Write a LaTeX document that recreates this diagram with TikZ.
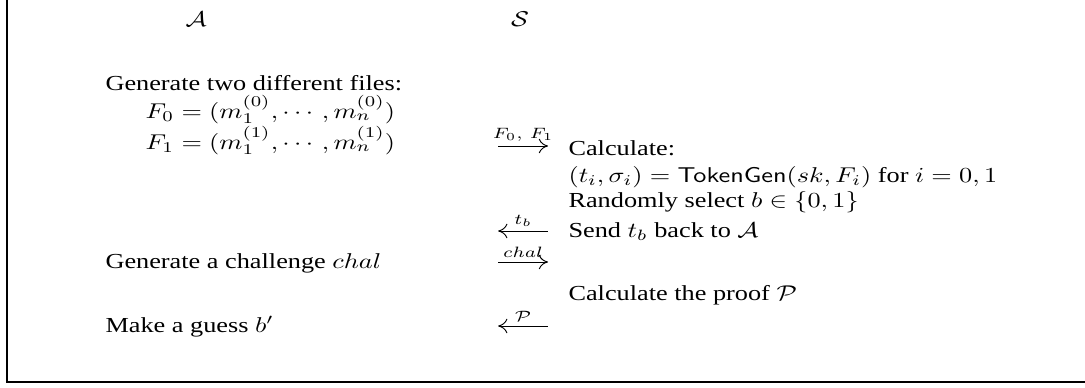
\documentclass[tikz,border=0pt]{standalone}
\usepackage{amsmath, amssymb}
\usepackage[no-math]{fontspec}
\setmainfont{Liberation Serif}
\usetikzlibrary{arrows.meta, positioning}

\begin{document}
\begin{tikzpicture}[
  x=0.3805pt, y=-0.4674pt, xscale=1.13, yscale=0.92,
  every node/.append style={transform shape},
  party/.style={anchor=base, inner sep=0pt},
  txt/.style={anchor=base west, inner sep=0pt},
  msg/.style={-{To[length=1.4mm, width=2.2mm]}, line width=0.4pt},
  back/.style={{To[length=1.4mm, width=2.2mm]}-, line width=0.4pt},
  lbl/.style={above, font=\scriptsize, inner sep=2pt}
]
\useasboundingbox (0,0) rectangle (1085,387);
\draw[line width=1.2pt] (7,0) -- (7,382) -- (1085,382);

% the two parties
\node[party] (adv) at (196,27) {$\mathcal{A}$};
\node[party] (srv) at (520,27) {$\mathcal{S}$};

% left column
\node[txt] (gen) at (105,90) {Generate two different files:};
\node[txt] (f0) at (145,118) {$F_0 = (m_1^{(0)}, \cdots, m_n^{(0)})$};
\node[txt] (f1) at (145,149) {$F_1 = (m_1^{(1)}, \cdots, m_n^{(1)})$};
\node[txt] (chal) at (105,268) {Generate a challenge $chal$};
\node[txt] (guess) at (105,332) {Make a guess $b'$};

% right column
\node[txt] (calc) at (568,155) {Calculate:};
\node[txt] (tok) at (568,182) {$(t_i, \sigma_i) = \mathsf{TokenGen}(sk, F_i)$ for $i = 0, 1$};
\node[txt] (rand) at (568,207) {Randomly select $b \in \{0, 1\}$};
\node[txt] (send) at (568,237) {Send $t_b$ back to $\mathcal{A}$};
\node[txt] (proof) at (568,300) {Calculate the proof $\mathcal{P}$};

% messages
\coordinate (m1l) at (498,146);  \coordinate (m1r) at (548,146);
\coordinate (m2l) at (498,231);  \coordinate (m2r) at (548,231);
\coordinate (m3l) at (498,262);  \coordinate (m3r) at (548,262);
\coordinate (m4l) at (498,326);  \coordinate (m4r) at (548,326);
\draw[msg] (m1l) -- node[lbl] {$F_0,\,F_1$} (m1r);
\draw[back] (m2l) -- node[lbl] {$t_b$} (m2r);
\draw[msg] (m3l) -- node[lbl] {$chal$} (m3r);
\draw[back] (m4l) -- node[lbl] {$\mathcal{P}$} (m4r);
\end{tikzpicture}
\end{document}
